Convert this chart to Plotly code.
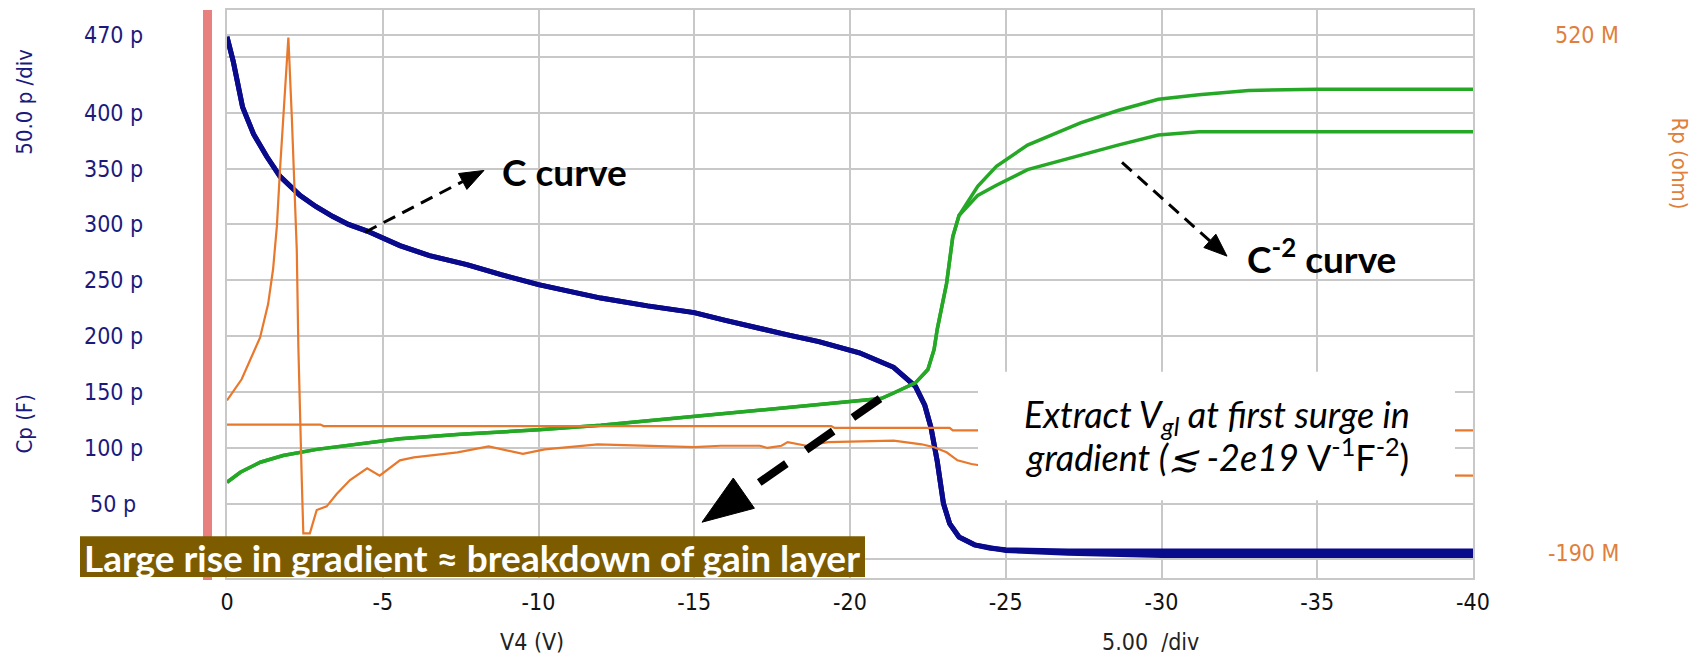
import math
import plotly.graph_objects as go

# ---------------- data ----------------
# Capacitance curves (pF) vs bias V4 (V)
v_c = [0, -0.2, -0.5, -0.85, -1.27, -1.7, -2.34, -2.85, -3.4, -3.9, -4.5, -5.55, -6.5, -7.7, -8.8,
       -10, -11, -12, -13.5, -15, -16, -17, -18, -19, -20.3, -21.4, -22.1, -22.4, -22.6, -22.8,
       -23.0, -23.2, -23.5, -24.0, -24.5, -25, -27, -30, -35, -40]
c1_pf = [468, 446, 405, 381, 361, 343, 326, 316, 307, 300, 294, 281, 272, 264, 255,
         246, 240, 234, 227, 221, 214, 207, 201, 195, 185, 172, 155, 138, 118, 88,
         50, 32, 20, 13, 10, 8.5, 7.5, 7.5, 7.5, 7.5]
c2_pf = [468, 446, 405, 381, 361, 343, 326, 316, 307, 300, 294, 281, 272, 264, 255,
         246, 240, 234, 227, 221, 214, 207, 201, 195, 185, 172, 155, 138, 118, 88,
         50, 32, 20, 13, 10, 8, 5.5, 3.5, 3.5, 3.5]

# C^-2 curves (drawn on the same vertical scale)
v_g = [0, -0.43, -1.07, -1.8, -2.88, -4.5, -5.55, -7.5, -10, -12, -13.9, -15, -17.1, -20, -21,
       -21.4, -22.1, -22.5, -22.7, -22.8, -23.1, -23.3, -23.5, -24.1, -24.7, -25.7, -27.4,
       -28.6, -29.9, -31.2, -32.8, -35, -40]
g1 = [69, 78, 87, 93, 98.5, 104, 108, 112, 116, 120, 125, 128, 133, 141, 144,
      149, 158, 170, 188, 206, 247, 289, 308, 334, 352, 371, 391,
      402, 412, 416, 420, 421, 421]
g2 = [69, 78, 87, 93, 98.5, 104, 108, 112, 116, 120, 125, 128, 133, 141, 144,
      149, 158, 170, 188, 206, 247, 289, 308, 326, 335, 349, 362,
      371, 380, 383, 383, 383, 383]

# Parallel resistance curves (M ohm)
v_ra = [0, -0.47, -1.06, -1.32, -1.48, -1.6, -1.7, -1.81, -1.9, -1.97,
        -2.08, -2.18, -2.24, -2.29, -2.34, -2.4, -2.45, -2.66, -2.88, -3.2,
        -3.52, -3.95, -4.5, -4.9, -5.55, -6.0, -7.4, -8.4, -9.5, -10.2,
        -11.9, -13.9, -15, -15.85, -17.1, -17.35, -17.8, -18, -18.6, -19.3,
        -21.4, -22.3, -22.7, -23.1, -23.45, -23.9, -24.2, -26, -30, -35, -40]
ra_mohm = [19, 48, 105, 151, 199, 257, 334, 414, 471, 516,
           408, 303, 225, 94, -10, -89, -163, -163, -131, -126,
           -109, -90, -74, -84, -63, -59, -52, -44, -54, -48,
           -41, -44, -45, -43, -43, -46, -43, -38, -43, -38,
           -36, -41, -45, -52, -63, -68, -70, -76, -80, -83, -84]
v_rb = [0, -3.0, -3.1, -19.4, -19.5, -23.2, -23.3, -40]
rb_mohm = [-14, -14, -16, -16, -18.5, -18.5, -22, -22]

# axis ticks
x_ticks = [0, -5, -10, -15, -20, -25, -30, -35, -40]
x_ticktext = ["0", "-5", "-10", "-15", "-20", "-25", "-30", "-35", "-40"]
y_grid = [0, 50, 100, 150, 200, 250, 300, 350, 400, 450, 470]
y_labels = [50, 100, 150, 200, 250, 300, 350, 400, 470]
r_labels = [520, -190]

# ---------------- layout geometry ----------------
W, H = 1707, 665
L, R, T, B = 227, 1473, 8, 578
NAVY = "#1a1a7e"
ORANGE = "#e07f3c"
BLUE = "#0a0a8c"
GREEN = "#25a825"
ORG_LINE = "#e8782c"
GRID = "#c8c8c8"
TICKFONT = "DejaVu Sans Condensed, DejaVu Sans"


def px(x):
    return (x - L) / (R - L)


def py(y):
    return (B - y) / (B - T)


fig = go.Figure()
fig.add_trace(go.Scatter(x=v_c, y=c2_pf, mode="lines", line=dict(color=BLUE, width=5), showlegend=False))
fig.add_trace(go.Scatter(x=v_c, y=c1_pf, mode="lines", line=dict(color=BLUE, width=5), showlegend=False))
fig.add_trace(go.Scatter(x=v_g, y=g2, mode="lines", line=dict(color=GREEN, width=3.5), showlegend=False))
fig.add_trace(go.Scatter(x=v_g, y=g1, mode="lines", line=dict(color=GREEN, width=3.5), showlegend=False))
fig.add_trace(go.Scatter(x=v_rb, y=[m * 1e6 for m in rb_mohm], mode="lines", yaxis="y2",
                         line=dict(color=ORG_LINE, width=2.2), showlegend=False))
fig.add_trace(go.Scatter(x=v_ra, y=[m * 1e6 for m in ra_mohm], mode="lines", yaxis="y2",
                         line=dict(color=ORG_LINE, width=2.2), showlegend=False))

shapes = []
annotations = []

# pink bar left of the plot
shapes.append(dict(type="rect", xref="paper", yref="paper", x0=px(203), x1=px(212), y0=py(580), y1=py(8),
                   fillcolor="#e88080", line=dict(width=0), layer="above"))
# white text box
shapes.append(dict(type="rect", xref="paper", yref="paper", x0=px(978), x1=px(1455), y0=py(500), y1=py(371),
                   fillcolor="white", line=dict(width=0), layer="above"))
# gold label box
shapes.append(dict(type="rect", xref="paper", yref="paper", x0=px(80), x1=px(865), y0=py(577), y1=py(536),
                   fillcolor="#7d5c00", line=dict(width=0), layer="above"))


def arrow(tail, tip, head_len, head_w, width, dash):
    dx, dy = tip[0] - tail[0], tip[1] - tail[1]
    n = math.hypot(dx, dy)
    ux, uy = dx / n, dy / n
    bx, by = tip[0] - ux * head_len, tip[1] - uy * head_len
    nx, ny = -uy, ux
    c1 = (bx + nx * head_w / 2, by + ny * head_w / 2)
    c2 = (bx - nx * head_w / 2, by - ny * head_w / 2)
    shapes.append(dict(type="line", xref="paper", yref="paper", x0=px(tail[0]), y0=py(tail[1]),
                       x1=px(bx), y1=py(by), line=dict(color="black", width=width, dash=dash), layer="above"))
    path = "M {:.5f},{:.5f} L {:.5f},{:.5f} L {:.5f},{:.5f} Z".format(
        px(tip[0]), py(tip[1]), px(c1[0]), py(c1[1]), px(c2[0]), py(c2[1]))
    shapes.append(dict(type="path", xref="paper", yref="paper", path=path, fillcolor="black",
                       line=dict(color="black", width=1), layer="above"))


arrow((365, 231), (484, 169), 24, 18, 3, "13px,8px")
arrow((1122, 161), (1227, 255), 23, 18, 3, "13px,8px")
arrow((880, 398), (702, 522), 51, 37, 8, "33px,24px")


def note(x, y, text, size, color, family, angle=0, xref="paper", yref="paper", xanchor="center"):
    annotations.append(dict(xref=xref, yref=yref, x=x, y=y, text=text, showarrow=False,
                            xanchor=xanchor, yanchor="middle", textangle=angle,
                            font=dict(family=family, size=size, color=color)))


# left tick labels
for v in y_labels:
    note(px(113), v, f"{v} p", 23, NAVY, TICKFONT, yref="y")
# right tick labels
for m in r_labels:
    note(px(1621), m * 1e6, f"{m} M", 23, ORANGE, TICKFONT, yref="y2", xanchor="right")
# axis titles
note(px(25), py(100), "50.0 p /div", 22, NAVY, TICKFONT, angle=-90)
note(px(25), py(423), "Cp (F)", 22, NAVY, TICKFONT, angle=-90)
note(px(1680), py(162), "Rp (ohm)", 22, ORANGE, TICKFONT, angle=90)
note(px(532), py(642), "V4 (V)", 23, "#222222", TICKFONT)
note(px(1150), py(642), "5.00  /div", 23, "#222222", TICKFONT)
# callouts
note(px(564), py(170), "<b>C curve</b>", 37, "black", "Lato")
note(px(1321), py(255), "<b>C<sup>-2</sup> curve</b>", 37, "black", "Lato")
note(px(1217), py(416), "<i>Extract V<sub>gl</sub> at first surge in</i>", 36, "black", "Lato")
note(px(1217), py(455), "<i>gradient (≲ -2e19</i> V<sup>-1</sup>F<sup>-2</sup>)", 36, "black", "Lato")
note(px(472), py(557), "<b>Large rise in gradient ≈ breakdown of gain layer</b>", 37, "white", "Lato")

fig.update_layout(
    width=W, height=H,
    margin=dict(l=L, r=W - R, t=T, b=H - B),
    paper_bgcolor="white", plot_bgcolor="white",
    xaxis=dict(range=[0, -40], tickvals=x_ticks, ticktext=x_ticktext, showgrid=True, gridcolor=GRID,
               gridwidth=1.5, zeroline=False, showline=True, mirror=True, linecolor=GRID, linewidth=1.5,
               ticks="", tickfont=dict(family=TICKFONT, size=23, color="#111111"), ticklabelstandoff=3),
    yaxis=dict(range=[-16.7, 492.0], tickvals=y_grid, showticklabels=False, showgrid=True, gridcolor=GRID,
               gridwidth=1.5, zeroline=False, showline=True, mirror=True, linecolor=GRID, linewidth=1.5,
               ticks=""),
    yaxis2=dict(range=[-224.1e6, 553.7e6], overlaying="y", side="right", showgrid=False,
                showticklabels=False, zeroline=False, showline=False, ticks=""),
    shapes=shapes, annotations=annotations,
    showlegend=False,
)

fig.write_html("out.html")
